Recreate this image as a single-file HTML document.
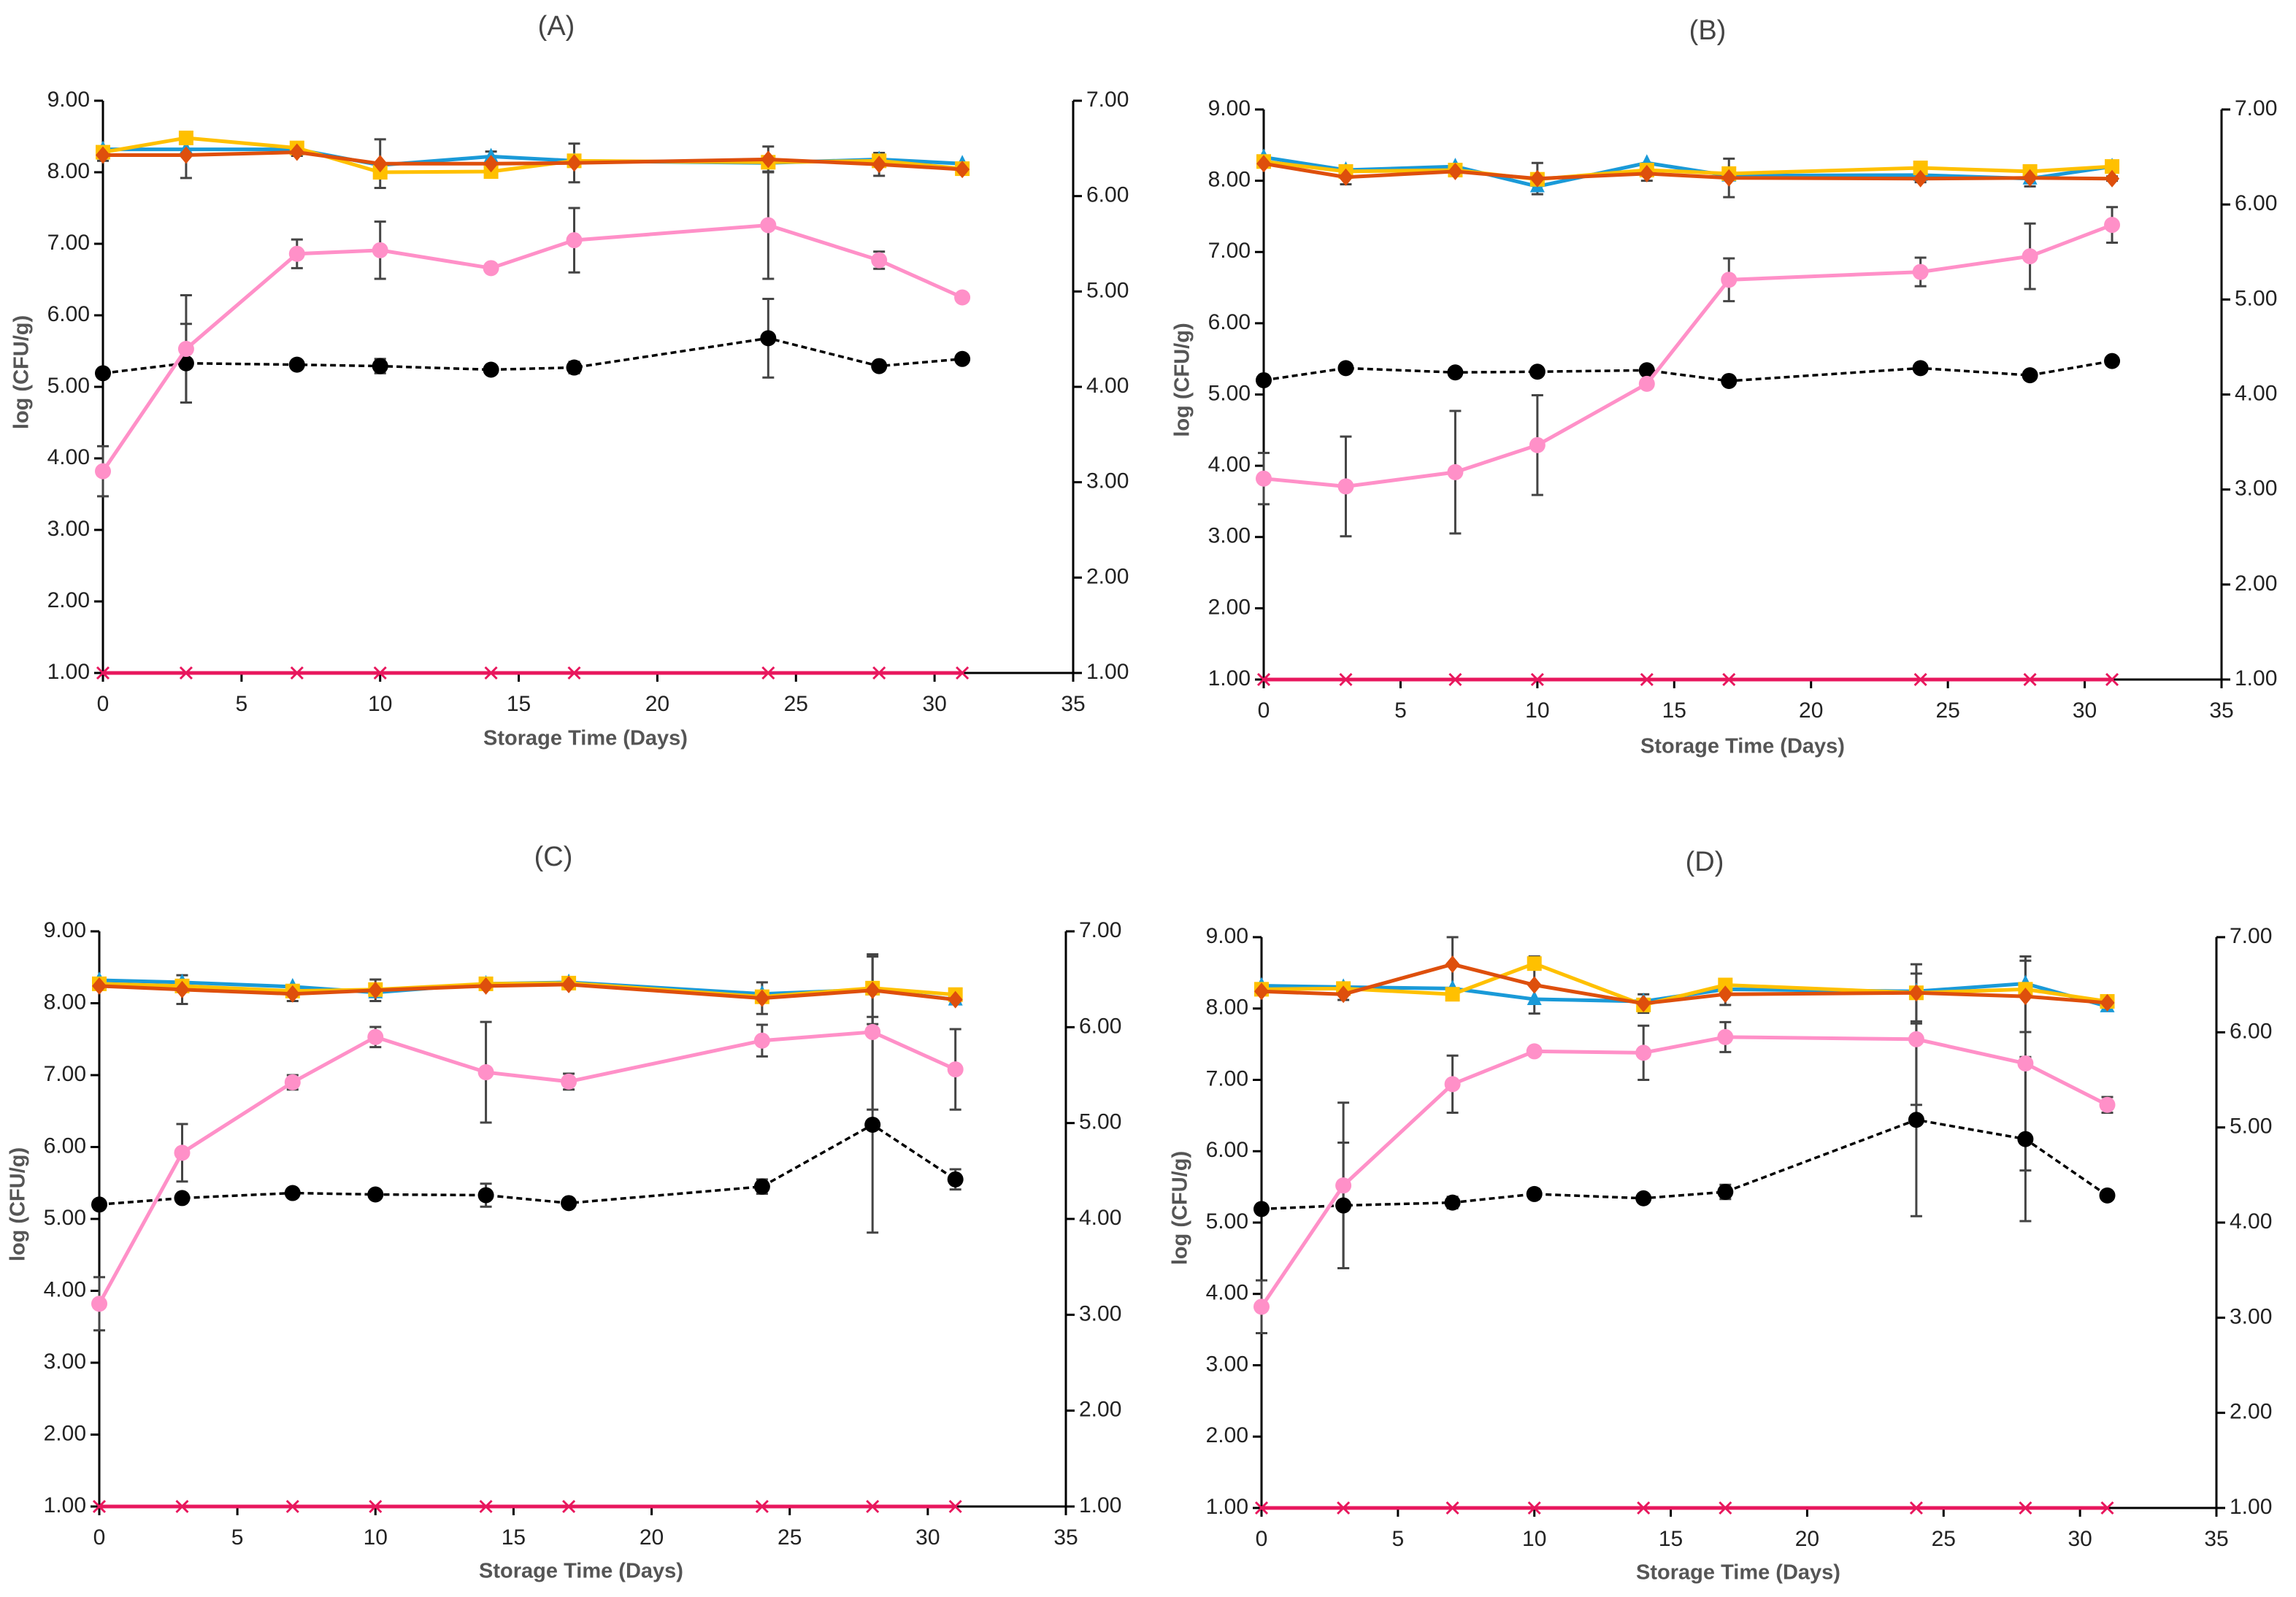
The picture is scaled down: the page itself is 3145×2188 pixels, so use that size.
<!DOCTYPE html>
<html><head><meta charset="utf-8"><style>
html,body{margin:0;padding:0;background:#fff;}
svg{display:block;font-family:"Liberation Sans",sans-serif;}
</style></head><body>
<svg id="fig" width="3145" height="2188" viewBox="0 0 3145 2188" xmlns="http://www.w3.org/2000/svg"></svg>
<script>
const days = [0,3,7,10,14,17,24,28,31];
const xTicks = [0,5,10,15,20,25,30,35];
const yTicksLeft = [1,2,3,4,5,6,7,8,9];
const yTicksRight = [1,2,3,4,5,6,7];
const panelLabels = ["(A)","(B)","(C)","(D)"];

const blueA = [8.32,8.32,8.32,8.10,8.22,8.16,8.13,8.18,8.12];
const yellowA = [8.28,8.48,8.34,8.00,8.01,8.16,8.14,8.16,8.05];
const orangeA = [8.24,8.24,8.28,8.12,8.12,8.13,8.18,8.11,8.04];
const pinkA = [3.82,5.53,6.86,6.91,6.66,7.05,7.26,6.77,6.25];
const pinkErrA = [0.35,0.75,0.2,0.4,0.02,0.45,0.75,0.12,0.06];
const blackA = [5.19,5.33,5.31,5.29,5.24,5.27,5.68,5.29,5.39];
const blackErrA = [0,0.55,0.05,0.1,0.02,0.08,0.55,0.02,0.02];
const topErrA = [0.08,0.32,0.05,0.34,0.17,0.27,0.18,0.16,0.03];

const blueB = [8.33,8.15,8.20,7.92,8.25,8.07,8.08,8.03,8.20];
const yellowB = [8.27,8.13,8.15,8.02,8.15,8.10,8.18,8.13,8.20];
const orangeB = [8.24,8.05,8.13,8.03,8.10,8.04,8.03,8.04,8.03];
const pinkB = [3.82,3.71,3.91,4.29,5.15,6.61,6.72,6.94,7.38];
const pinkErrB = [0.36,0.7,0.86,0.7,0.02,0.3,0.2,0.46,0.25];
const blackB = [5.20,5.37,5.31,5.32,5.34,5.19,5.37,5.27,5.47];
const blackErrB = [0,0.02,0.02,0.02,0.03,0.02,0.03,0.02,0.02];
const topErrB = [0.05,0.1,0.05,0.22,0.1,0.27,0.05,0.12,0.03];

const blueC = [8.32,8.29,8.23,8.15,8.27,8.29,8.13,8.19,8.05];
const yellowC = [8.27,8.24,8.17,8.19,8.27,8.28,8.09,8.21,8.12];
const orangeC = [8.24,8.19,8.13,8.18,8.24,8.26,8.07,8.18,8.05];
const pinkC = [3.82,5.92,6.90,7.53,7.04,6.91,7.48,7.60,7.08];
const pinkErrC = [0.37,0.4,0.1,0.14,0.7,0.11,0.22,1.08,0.56];
const blackC = [5.20,5.29,5.36,5.34,5.33,5.22,5.45,6.31,5.55];
const blackErrC = [0,0.04,0.03,0.04,0.16,0.02,0.1,1.5,0.14];
const topErrC = [0.05,0.2,0.1,0.15,0.05,0.05,0.22,0.47,0.05];

const blueD = [8.32,8.30,8.28,8.13,8.10,8.27,8.24,8.35,8.03];
const yellowD = [8.27,8.28,8.20,8.63,8.05,8.33,8.22,8.27,8.10];
const orangeD = [8.24,8.20,8.62,8.33,8.07,8.20,8.22,8.17,8.08];
const pinkD = [3.82,5.52,6.94,7.40,7.38,7.60,7.57,7.23,6.65];
const pinkErrD = [0.37,1.16,0.4,0.02,0.38,0.21,0.92,1.5,0.11];
const blackD = [5.19,5.24,5.28,5.40,5.34,5.43,6.44,6.17,5.38];
const blackErrD = [0,0.88,0.08,0.07,0.05,0.1,1.35,1.15,0.04];
const topErrD = [0.05,0.08,0.38,0.4,0.13,0.15,0.4,0.5,0.04];

const baseline = [1,1,1,1,1,1,1,1,1];

const panels = [
 {id:"a",x0:141,x1:1470,y9:138,y1:922,tx:762,ty:38,xl:802,xlY:1013,blue:blueA,yellow:yellowA,orange:orangeA,pink:pinkA,pinkErr:pinkErrA,black:blackA,blackErr:blackErrA,topErr:topErrA},
 {id:"b",x0:1731,x1:3043,y9:150,y1:931,tx:2339,ty:44,xl:2387,xlY:1024,blue:blueB,yellow:yellowB,orange:orangeB,pink:pinkB,pinkErr:pinkErrB,black:blackB,blackErr:blackErrB,topErr:topErrB},
 {id:"c",x0:136,x1:1460,y9:1276,y1:2064,tx:758,ty:1176,xl:796,xlY:2154,blue:blueC,yellow:yellowC,orange:orangeC,pink:pinkC,pinkErr:pinkErrC,black:blackC,blackErr:blackErrC,topErr:topErrC},
 {id:"d",x0:1728,x1:3036,y9:1284,y1:2066,tx:2335,ty:1183,xl:2381,xlY:2156,blue:blueD,yellow:yellowD,orange:orangeD,pink:pinkD,pinkErr:pinkErrD,black:blackD,blackErr:blackErrD,topErr:topErrD}
];

const NS="http://www.w3.org/2000/svg";
const svg=document.getElementById("fig");
function mk(tag,attrs,parent){const e=document.createElementNS(NS,tag);for(const k in attrs)e.setAttribute(k,attrs[k]);parent.appendChild(e);return e;}

panels.forEach((p,pi)=>{
  const g=mk("g",{},svg);
  
  
  const xs=d=>p.x0+(d/35)*(p.x1-p.x0);
  const ys=v=>p.y1-(v-1)/8*(p.y1-p.y9);
  const ysR=v=>p.y1-(v-1)/6*(p.y1-p.y9);
  const title=mk("text",{x:p.tx,y:p.ty,"font-size":38,fill:"#444","text-anchor":"middle","dominant-baseline":"middle"},g);
  title.textContent=panelLabels[pi];
  
  
  const ax=mk("g",{stroke:"#000","stroke-width":3},g);
  
  
  mk("line",{x1:p.x0,y1:p.y9,x2:p.x0,y2:p.y1},ax);
  mk("line",{x1:p.x1,y1:p.y9,x2:p.x1,y2:p.y1},ax);
  mk("line",{x1:p.x0,y1:p.y1,x2:p.x1,y2:p.y1},ax);
  yTicksLeft.forEach(v=>{
    mk("line",{x1:p.x0-12,y1:ys(v),x2:p.x0,y2:ys(v)},ax);
    const t=mk("text",{x:p.x0-18,y:ys(v),"font-size":30,fill:"#222","text-anchor":"end","dominant-baseline":"middle",stroke:"none"},g);
    t.textContent=v.toFixed(2);
    
    
  });
  yTicksRight.forEach(v=>{
    mk("line",{x1:p.x1,y1:ysR(v),x2:p.x1+12,y2:ysR(v)},ax);
    const t=mk("text",{x:p.x1+18,y:ysR(v),"font-size":30,fill:"#222","text-anchor":"start","dominant-baseline":"middle",stroke:"none"},g);
    t.textContent=v.toFixed(2);
    
    
  });
  xTicks.forEach(v=>{
    mk("line",{x1:xs(v),y1:p.y1,x2:xs(v),y2:p.y1+12},ax);
    const t=mk("text",{x:xs(v),y:p.y1+44,"font-size":30,fill:"#222","text-anchor":"middle","dominant-baseline":"middle"},g);
    t.textContent=v;
    
    
  });
  const xl=mk("text",{x:p.xl,y:p.xlY,"font-size":29,"font-weight":"bold",fill:"#555","text-anchor":"middle","dominant-baseline":"middle"},g);
  xl.textContent="Storage Time (Days)";
  
  
  const ym=(p.y9+p.y1)/2-20;
  const yl=mk("text",{x:p.x0-110,y:ym,"font-size":29,"font-weight":"bold",fill:"#555","text-anchor":"middle","dominant-baseline":"middle",transform:`rotate(-90 ${p.x0-110} ${ym})`},g);
  yl.textContent="log (CFU/g)";
  
  

  const errG=mk("g",{stroke:"#444","stroke-width":3},g);
  
  
  function err(d,v,e){ if(e<=0)return; const x=xs(d),a=ys(v+e),b=ys(v-e);
    mk("line",{x1:x,y1:a,x2:x,y2:b},errG);mk("line",{x1:x-8,y1:a,x2:x+8,y2:a},errG);mk("line",{x1:x-8,y1:b,x2:x+8,y2:b},errG);}
  days.forEach((d,i)=>{err(d,p.pink[i],p.pinkErr[i]);err(d,p.black[i],p.blackErr[i]);err(d,p.orange[i],p.topErr[i]);});

  function series(vals,color,dash,marker,name){
    const sg=mk("g",{},g);
    
    
    const pts=days.map((d,i)=>xs(d)+","+ys(vals[i])).join(" ");
    mk("polyline",{points:pts,fill:"none",stroke:color,"stroke-width":dash?3.5:5,"stroke-dasharray":dash?"8,5":"none"},sg);
    days.forEach((d,i)=>{const x=xs(d),y=ys(vals[i]);let m;
      if(marker==="circle") m=mk("circle",{cx:x,cy:y,r:11,fill:color},sg);
      else if(marker==="square") m=mk("rect",{x:x-10,y:y-10,width:20,height:20,fill:color},sg);
      else if(marker==="diamond") m=mk("polygon",{points:`${x},${y-12} ${x+10},${y} ${x},${y+12} ${x-10},${y}`,fill:color},sg);
      else if(marker==="triangle") m=mk("polygon",{points:`${x},${y-12} ${x+10},${y+8} ${x-10},${y+8}`,fill:color},sg);
      else if(marker==="x"){m=mk("path",{d:`M${x-8} ${y-8}L${x+8} ${y+8}M${x+8} ${y-8}L${x-8} ${y+8}`,stroke:color,"stroke-width":3},sg);}
      
      
    });
  }
  series(p.black,"#000",true,"circle","black-dashed-series");
  series(p.pink,"#ff90c8",false,"circle","pink-series");
  series(p.blue,"#1a9ad8",false,"triangle","blue-series");
  series(p.yellow,"#ffc000",false,"square","yellow-series");
  series(p.orange,"#de4f0c",false,"diamond","orange-series");
  series(baseline,"#e8175d",false,"x","baseline-series");
});
</script>
</body></html>
